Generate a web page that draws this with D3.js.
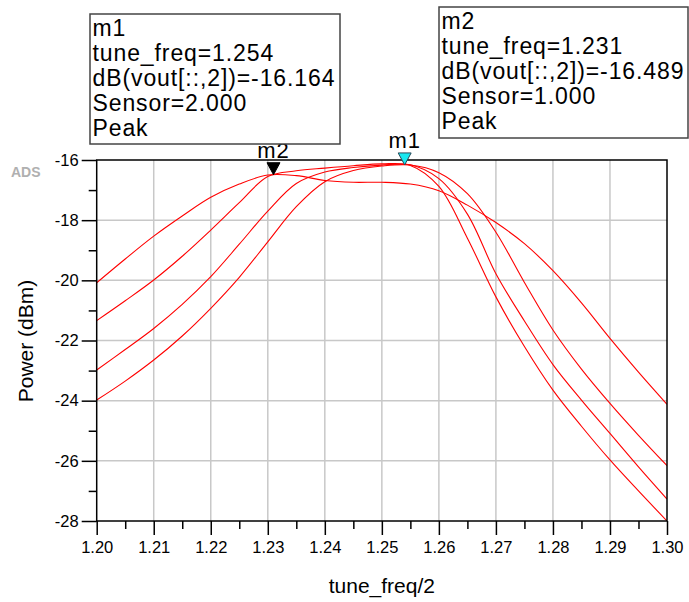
<!DOCTYPE html>
<html lang="en">

<head>
  <meta charset="UTF-8" />
  <script src="https://cdn.jsdelivr.net/npm/d3@7/dist/d3.min.js"></script>
  <title>tune_freq sweep</title>
  <style>
    body { margin: 0; background: #fff; }
    svg { font-family: "Liberation Sans", Arial, sans-serif; }
  </style>
</head>

<body>
  <svg width="689" height="602"></svg>
  <script>
    // tune_freq/2 sample points
    const freq = [1.200, 1.205, 1.210, 1.215, 1.220, 1.225, 1.230, 1.235, 1.240, 1.245, 1.250,
      1.255, 1.260, 1.265, 1.270, 1.275, 1.280, 1.285, 1.290, 1.295, 1.300];
    // dB(vout[::,2]) for each Sensor sweep value
    const sensor1 = [-20.08, -19.29, -18.53, -17.86, -17.24, -16.80, -16.50, -16.52, -16.68, -16.74, -16.74,
      -16.80, -17.02, -17.50, -18.08, -18.78, -19.68, -20.75, -21.93, -23.05, -24.12];
    const sensor2 = [-21.34, -20.68, -19.99, -19.20, -18.33, -17.42, -16.55, -16.36, -16.27, -16.19, -16.13,
      -16.18, -16.88, -18.60, -20.55, -22.20, -23.65, -24.85, -25.97, -27.00, -28.00];
    const sensor3 = [-22.98, -22.30, -21.60, -20.80, -19.88, -18.80, -17.70, -16.78, -16.40, -16.25, -16.17,
      -16.16, -16.62, -17.80, -19.78, -21.35, -22.80, -23.98, -25.09, -26.20, -27.27];
    const sensor4 = [-23.98, -23.35, -22.65, -21.85, -20.93, -19.90, -18.72, -17.55, -16.72, -16.35, -16.20,
      -16.165, -16.42, -17.12, -18.40, -20.07, -21.65, -22.95, -24.09, -25.15, -26.16];

    const xTicks = [1.20, 1.21, 1.22, 1.23, 1.24, 1.25, 1.26, 1.27, 1.28, 1.29, 1.30];
    const yTicks = [-16, -18, -20, -22, -24, -26, -28];

    // markers
    const markerNames = ["m1", "m2"];
    const markerFreq = [1.254, 1.231];
    const markerVal = [-16.164, -16.489];
    const markerSensor = ["2.000", "1.000"];

    const svg = d3.select("svg");
    const pLeft = 96.7, pRight = 667, pTop = 160, pBottom = 521;

    const xScale = d3.scaleLinear().domain([1.2, 1.3]).range([pLeft, pRight]);
    const yScale = d3.scaleLinear().domain([-16, -28]).range([pTop, pBottom]);

    // grid
    svg.append("g")
      .selectAll("line")
      .data(xTicks.slice(1, -1))
      .enter().append("line")
      .attr("x1", d => xScale(d)).attr("x2", d => xScale(d))
      .attr("y1", pTop).attr("y2", pBottom)
      .attr("stroke", "#c8c8c8").attr("stroke-width", 1.5);
    svg.append("g")
      .selectAll("line")
      .data(yTicks.slice(1, -1))
      .enter().append("line")
      .attr("x1", pLeft).attr("x2", pRight)
      .attr("y1", d => yScale(d)).attr("y2", d => yScale(d))
      .attr("stroke", "#c8c8c8").attr("stroke-width", 1.5);

    // curves
    svg.append("clipPath").attr("id", "plot")
      .append("rect").attr("x", pLeft).attr("y", pTop - 1)
      .attr("width", pRight - pLeft).attr("height", pBottom - pTop + 1);

    const line = d3.line()
      .x((d, i) => xScale(freq[i]))
      .y(d => yScale(d))
      .curve(d3.curveCatmullRom.alpha(0.5));

    svg.append("g").attr("clip-path", "url(#plot)")
      .selectAll("path")
      .data([sensor1, sensor2, sensor3, sensor4])
      .enter().append("path")
      .attr("d", line)
      .attr("fill", "none")
      .attr("stroke", "#ff0000")
      .attr("stroke-width", 1.1);

    // axes
    const isMajorX = d => Math.round(d * 1000) % 10 === 0;
    const xAxis = d3.axisBottom(xScale)
      .tickValues(d3.range(0, 21).map(k => 1.2 + k * 0.005))
      .tickFormat(d => (isMajorX(d) ? d3.format(".2f")(d) : ""))
      .tickSize(14).tickPadding(6);
    const gx = svg.append("g").attr("transform", `translate(0,${pBottom})`).call(xAxis);
    gx.selectAll(".tick line").attr("y2", d => (isMajorX(d) ? 14 : 8));

    const yAxis = d3.axisLeft(yScale)
      .tickValues(d3.range(0, 13).map(k => -16 - k))
      .tickFormat(d => (d % 2 === 0 ? d : ""))
      .tickSize(15).tickPadding(3);
    const gy = svg.append("g").attr("transform", `translate(${pLeft},0)`).call(yAxis);
    gy.selectAll(".tick line").attr("x2", d => (d % 2 === 0 ? -15 : -8));

    svg.selectAll(".domain").remove();
    svg.selectAll(".tick line").attr("stroke", "#000").attr("stroke-width", 1.5);
    svg.selectAll(".tick text").attr("font-size", 16.5).attr("fill", "#000")
      .attr("font-family", "Liberation Sans, Arial, sans-serif");

    svg.append("rect")
      .attr("x", pLeft).attr("y", pTop)
      .attr("width", pRight - pLeft).attr("height", pBottom - pTop)
      .attr("fill", "none").attr("stroke", "#000").attr("stroke-width", 1.5);

    // axis titles
    svg.append("text")
      .attr("x", (pLeft + pRight) / 2).attr("y", 593)
      .attr("text-anchor", "middle").attr("font-size", 21)
      .text("tune_freq/2");
    svg.append("text")
      .attr("transform", "translate(33,341) rotate(-90)")
      .attr("text-anchor", "middle").attr("font-size", 21)
      .text("Power (dBm)");

    svg.append("text")
      .attr("x", 11).attr("y", 177)
      .attr("font-size", 14).attr("font-weight", "bold").attr("fill", "#b0b0b0")
      .text("ADS");

    // marker triangles + names
    markerNames.forEach((name, i) => {
      const mx = xScale(markerFreq[i]), my = yScale(markerVal[i]);
      svg.append("path")
        .attr("d", `M${mx},${my} L${mx - 6.5},${my - 12} L${mx + 6.5},${my - 12} Z`)
        .attr("fill", i === 0 ? "#18e8f0" : "#000")
        .attr("stroke", i === 0 ? "#2a4a5a" : "#000").attr("stroke-width", 1);
      svg.append("text")
        .attr("x", mx).attr("y", my - 17)
        .attr("text-anchor", "middle").attr("font-size", 22).attr("letter-spacing", 1)
        .text(name);
    });

    // marker readout boxes
    const boxes = [
      { i: 0, x: 90, y: 14, w: 250, h: 130 },
      { i: 1, x: 439, y: 7, w: 249, h: 131 }
    ];
    boxes.forEach(b => {
      svg.append("rect")
        .attr("x", b.x).attr("y", b.y).attr("width", b.w).attr("height", b.h)
        .attr("fill", "#fff").attr("stroke", "#444").attr("stroke-width", 1.5);
      const lines = [
        markerNames[b.i],
        "tune_freq=" + markerFreq[b.i].toFixed(3),
        "dB(vout[::,2])=" + markerVal[b.i].toFixed(3),
        "Sensor=" + markerSensor[b.i],
        "Peak"
      ];
      svg.append("g").selectAll("text")
        .data(lines)
        .enter().append("text")
        .attr("x", b.x + 2.5)
        .attr("y", (d, k) => b.y + 22 + k * 25)
        .attr("font-size", 23).attr("letter-spacing", 0.9)
        .text(d => d);
    });
  </script>
</body>

</html>
